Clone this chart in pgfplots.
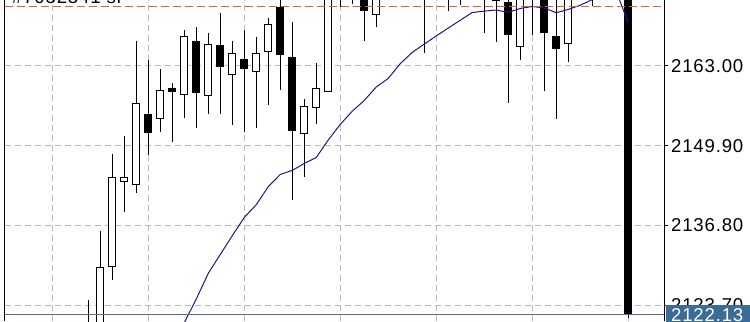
\documentclass[border=0pt]{standalone}
\usepackage{fontspec}
\setmainfont{Liberation Sans}
\newfontfamily\lblfont{Liberation Sans}[LetterSpace=4.5]
\usepackage{pgfplots}
\pgfplotsset{compat=1.18}
\usepackage{pgfplotstable}

\definecolor{gridc}{RGB}{185,185,185}
\definecolor{slc}{RGB}{225,95,55}
\definecolor{mac}{RGB}{25,25,135}
\definecolor{pricebox}{RGB}{58,108,150}
\definecolor{priceline}{RGB}{82,112,138}

\pgfplotstableread{
k o h l c
-1 2116.00 2124.59 2113.00 2119.00
0 2118.00 2135.91 2116.50 2130.05
1 2130.05 2148.51 2127.87 2144.83
2 2143.96 2151.51 2139.08 2144.83
3 2143.47 2167.15 2142.10 2156.88
4 2155.12 2163.98 2148.39 2151.95
5 2154.30 2162.46 2152.21 2159.06
6 2159.39 2160.26 2150.57 2158.68
7 2158.19 2168.91 2154.42 2167.97
8 2167.10 2169.45 2152.77 2158.52
9 2158.03 2168.47 2155.20 2166.66
10 2166.50 2171.70 2155.17 2162.79
11 2161.47 2167.15 2153.27 2165.13
12 2164.18 2168.91 2152.21 2162.46
13 2161.97 2167.81 2152.90 2165.18
14 2165.25 2170.93 2156.60 2169.90
15 2172.64 2175.60 2159.11 2164.76
16 2164.48 2170.22 2141.00 2152.33
17 2151.84 2157.53 2144.73 2156.43
18 2156.06 2163.54 2153.43 2159.39
19 2158.73 2179.20 2158.73 2177.40
20 2177.30 2181.50 2172.74 2179.80
21 2179.60 2183.00 2173.26 2181.20
22 2180.90 2182.40 2167.15 2172.08
23 2171.32 2178.50 2169.45 2177.60
24 2177.40 2183.90 2175.10 2182.60
25 2182.40 2186.00 2178.20 2180.10
26 2180.20 2184.00 2176.20 2177.40
27 2177.30 2181.80 2165.08 2179.60
28 2179.50 2183.20 2175.60 2176.80
29 2176.90 2180.40 2172.08 2178.90
30 2178.80 2182.10 2173.01 2175.80
31 2175.90 2180.00 2174.20 2178.20
32 2178.10 2181.70 2168.47 2176.40
33 2176.50 2179.90 2166.99 2173.67
34 2173.56 2176.20 2156.98 2168.09
35 2166.07 2178.40 2163.99 2176.90
36 2176.80 2180.30 2168.09 2177.90
37 2177.80 2179.60 2158.95 2168.37
38 2167.97 2175.00 2154.25 2165.74
39 2166.56 2177.80 2163.71 2176.30
40 2176.40 2180.70 2174.40 2178.90
41 2178.80 2182.30 2172.85 2180.60
42 2180.50 2184.20 2176.30 2182.40
43 2182.50 2186.10 2179.00 2183.80
44 2183.70 2185.00 2121.60 2122.13
}\candles

\pgfplotstableread{
k ma
6 2117.20
7 2120.89
8 2124.75
9 2128.97
10 2132.06
11 2135.14
12 2138.13
13 2140.23
14 2143.19
15 2145.19
16 2145.85
17 2147.00
18 2147.98
19 2150.85
20 2153.40
21 2155.58
22 2157.33
23 2159.55
24 2160.95
25 2163.38
26 2165.22
27 2166.59
28 2167.93
29 2169.22
30 2170.50
31 2171.78
32 2172.01
33 2172.19
34 2171.82
35 2172.44
36 2172.77
37 2172.55
38 2171.75
39 2172.28
40 2172.97
41 2173.88
42 2174.82
43 2175.31
44 2170.22
}\matable

\begin{document}
\begin{tikzpicture}
\begin{axis}[
  scale only axis, width=329.75pt, height=160.5pt,
  xmin=-8, xmax=47, ymin=2121.12, ymax=2173.84,
  axis line style={draw=none},
  clip mode=individual,
  xtick={-4,4,...,44}, xticklabel=\empty, xtick style={draw=none},
  ytick={2123.7,2136.8,2149.9,2163.0},
  ytick pos=right, yticklabel pos=right,
  tick align=outside, major tick length=2pt,
  ytick style={black, line width=0.5pt},
  yticklabel={\pgfmathprintnumber[fixed,fixed zerofill,precision=2,1000 sep={},assume math mode=true]{\tick}},
  yticklabel style={anchor=west, inner sep=0pt, xshift=1.35pt, font=\lblfont\fontsize{9.3}{11}\selectfont},
  grid=major, major grid style={gridc, line width=0.5pt, dash pattern=on 3pt off 2pt},
]
% wicks
\addplot[draw=none, mark=none, error bars/.cd, y dir=both, y explicit, error mark=none,
  error bar style={draw=black, line width=0.5pt}]
  table[x=k, y expr={(\thisrow{h}+\thisrow{l})/2}, y error expr={(\thisrow{h}-\thisrow{l})/2}] {\candles};
% bodies (outline / bearish fill)
\addplot[draw=none, mark=none, error bars/.cd, y dir=both, y explicit, error mark=none,
  error bar style={draw=black, line width=4pt}]
  table[x=k, y expr={(\thisrow{o}+\thisrow{c})/2}, y error expr={abs(\thisrow{c}-\thisrow{o})/2}] {\candles};
% bullish interior
\addplot[draw=none, mark=none, error bars/.cd, y dir=both, y explicit, error mark=none,
  error bar style={draw=white, line width=3pt}]
  table[x=k, y expr={(\thisrow{o}+\thisrow{c})/2}, y error expr={ifthenelse(\thisrow{c}>\thisrow{o},(\thisrow{c}-\thisrow{o})/2-0.1642,0)}] {\candles};
% moving average
\addplot[mac, line width=0.5pt, mark=none] table[x=k, y=ma] {\matable};
% stop-loss line
\addplot[slc, line width=0.5pt, mark=none, dash pattern=on 4pt off 2pt] coordinates {(-8,2172.74) (47,2172.74)};
% current price line
\addplot[priceline, line width=0.5pt, mark=none] coordinates {(-8,2122.13) (47,2122.13)};

\draw[black, line width=0.5pt] (rel axis cs:0,0) -- (rel axis cs:0,1);
\draw[black, line width=0.5pt] (rel axis cs:1,0) -- (rel axis cs:1,1);
\node[anchor=base west, inner sep=0pt, font=\lblfont\fontsize{9.3}{11}\selectfont] at (axis cs:-7.4,2173.30) {\#7052341 sl};
\node[anchor=west, fill=pricebox, text=white, inner xsep=2.5pt, inner ysep=0pt, minimum height=10.3pt,
  text width=40pt, font=\lblfont\fontsize{9.3}{11}\selectfont, xshift=0.85pt] at (axis cs:47,2122.13) {2122.13};
\coordinate (ll) at (rel axis cs:0,0);
\coordinate (ur) at (rel axis cs:1,1);
\end{axis}
\pgfresetboundingbox
\useasboundingbox ([xshift=-2.25pt]ll) rectangle ([xshift=43pt]ur);
\end{tikzpicture}
\end{document}
